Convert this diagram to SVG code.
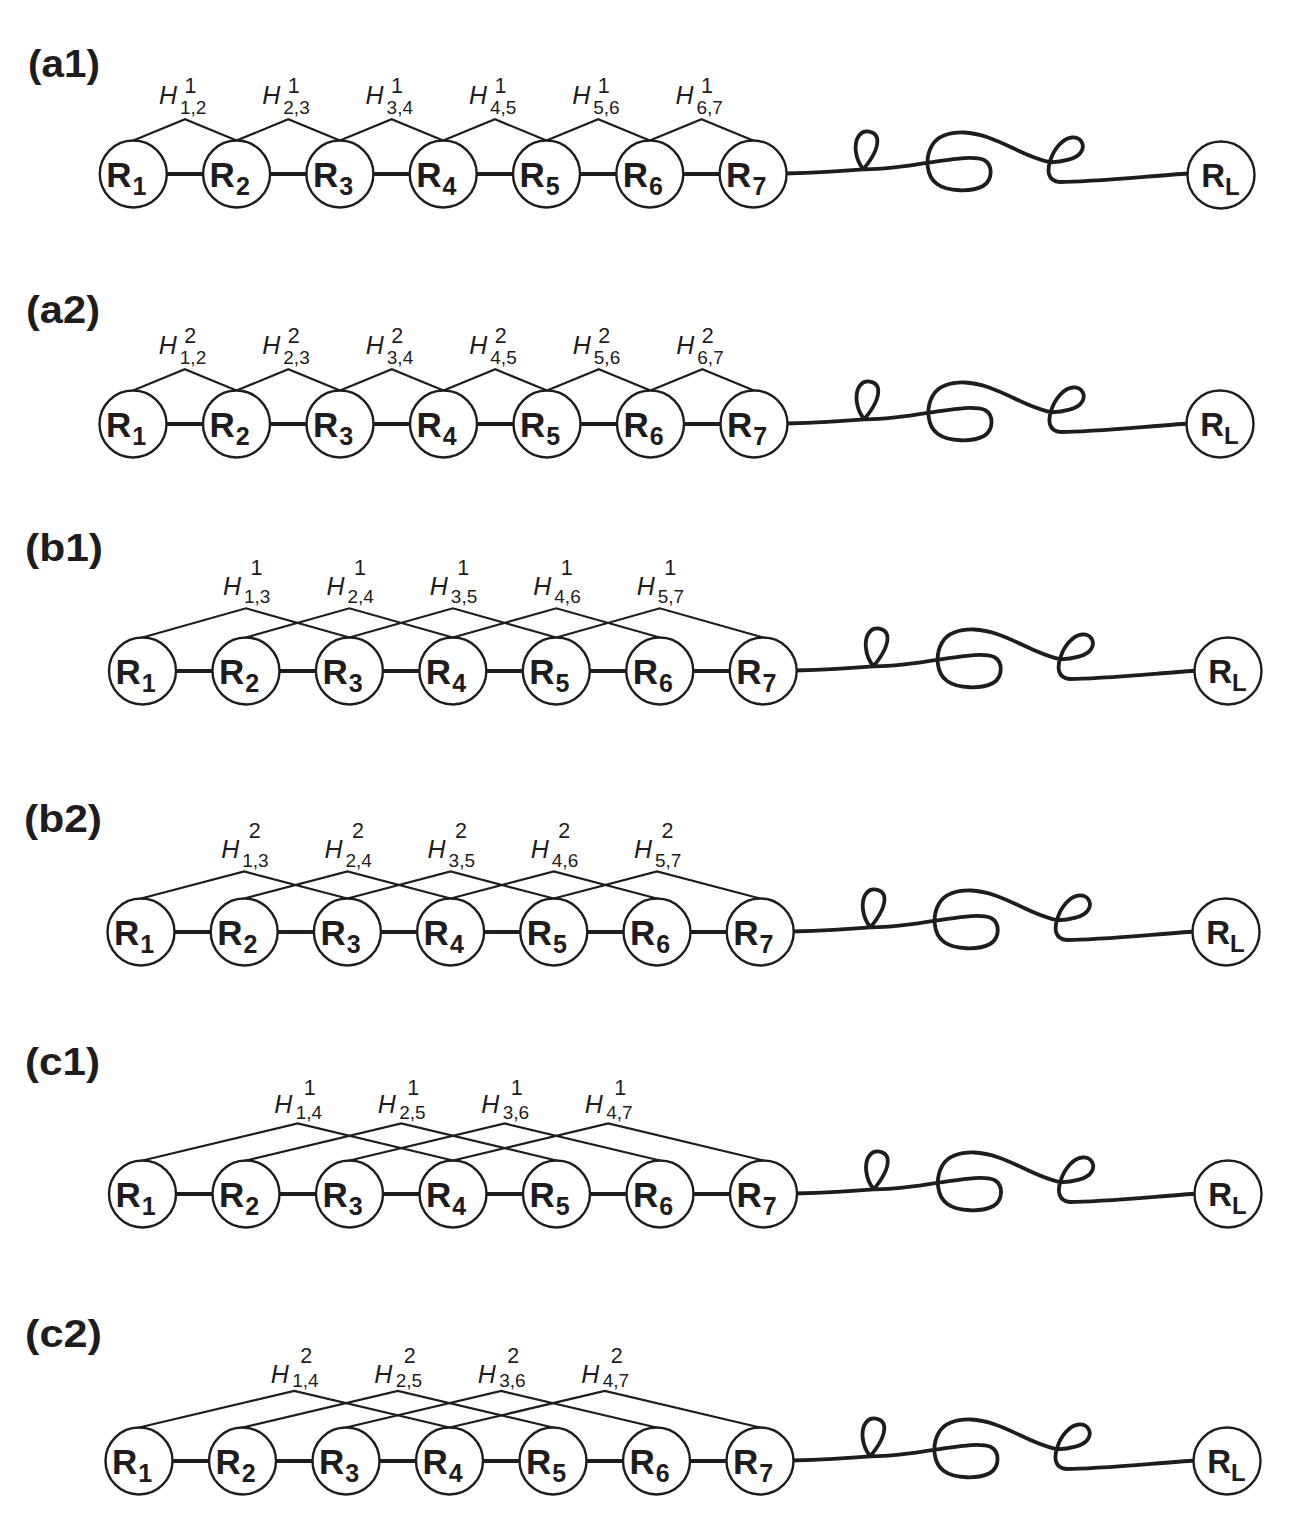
<svg xmlns="http://www.w3.org/2000/svg" width="1303" height="1530" viewBox="0 0 1303 1530">
<style>
.bg{fill:#fff}
.node circle{fill:#fff;stroke:#1f1c1d;stroke-width:2.4}
.chain{stroke:#1f1c1d;stroke-width:4;fill:none}
.hat{fill:none;stroke:#1f1c1d;stroke-width:2.2}
.sq{fill:none;stroke:#1f1c1d;stroke-width:3.8;stroke-linecap:round;stroke-linejoin:round}
.r{font-family:"Liberation Sans",Arial,Helvetica,sans-serif;font-weight:bold;font-size:35px;fill:#1f1c1d}
.rs{font-size:25px}
.rl{font-size:33px}
.rls{font-size:24px}
.h{font-family:"Liberation Sans",Arial,Helvetica,sans-serif;font-style:italic;font-size:25px;fill:#1f1c1d}
.hs{font-style:normal;font-size:19px}
.hp{font-style:normal;font-size:21.5px}
.lab{font-family:"Liberation Sans",Arial,Helvetica,sans-serif;font-weight:bold;font-size:38px;fill:#1f1c1d}
</style>
<defs>
<path id="squiggle" class="sq" d="M784,173.5 C815,172.5 842,171 863.3,169.3 C871,160 879,147 877,138 C875,131 864,129 859.5,135 C853,143 855,159 863.3,169.3 C880,169.5 905,166.5 928.3,162.7 C948,160 972,155 984,160 C993,165 993,180 983,186 C972,192 948,192 937,184 C926,176 925,158 931.7,146 C937,136 950,132 964,132.5 C980,133 996,140 1013.3,148.3 C1027,155 1040,160 1050,162.3 C1062,162 1077,159 1081,152 C1086,144 1080,137 1072,137.5 C1063,138 1054,149 1050.5,160 C1047,170 1047,181 1060,182 C1090,182 1150,176 1189,173.5"/>
</defs>
<rect class="bg" x="0" y="0" width="1303" height="1530"/>

<!-- ===== a1 ===== -->
<g id="panel-a1">
<text class="lab" x="28" y="77" textLength="72" lengthAdjust="spacingAndGlyphs">(a1)</text>
<g id="a1-connectors">
<line class="chain" x1="133.3" y1="174" x2="753.1" y2="174"/>
<polyline class="hat" points="133.3,140.5 185,119.3 236.6,140.5"/>
<polyline class="hat" points="236.6,140.5 288.3,119.3 339.9,140.5"/>
<polyline class="hat" points="339.9,140.5 391.6,119.3 443.2,140.5"/>
<polyline class="hat" points="443.2,140.5 494.9,119.3 546.5,140.5"/>
<polyline class="hat" points="546.5,140.5 598.2,119.3 649.8,140.5"/>
<polyline class="hat" points="649.8,140.5 701.5,119.3 753.1,140.5"/>
<use href="#squiggle"/>
</g>
<g id="a1-labels">
<text class="h"><tspan x="159" y="103.8">H</tspan><tspan class="hs" x="180" y="113.7">1,2</tspan><tspan class="hp" x="184.5" y="93">1</tspan></text>
<text class="h"><tspan x="262.3" y="103.8">H</tspan><tspan class="hs" x="283.3" y="113.7">2,3</tspan><tspan class="hp" x="287.8" y="93">1</tspan></text>
<text class="h"><tspan x="365.6" y="103.8">H</tspan><tspan class="hs" x="386.6" y="113.7">3,4</tspan><tspan class="hp" x="391.1" y="93">1</tspan></text>
<text class="h"><tspan x="468.9" y="103.8">H</tspan><tspan class="hs" x="489.9" y="113.7">4,5</tspan><tspan class="hp" x="494.4" y="93">1</tspan></text>
<text class="h"><tspan x="572.2" y="103.8">H</tspan><tspan class="hs" x="593.2" y="113.7">5,6</tspan><tspan class="hp" x="597.7" y="93">1</tspan></text>
<text class="h"><tspan x="675.5" y="103.8">H</tspan><tspan class="hs" x="696.5" y="113.7">6,7</tspan><tspan class="hp" x="701" y="93">1</tspan></text>
</g>
<g id="a1-R1" class="node"><circle cx="133.3" cy="174" r="33.5"/><text class="r" x="106.3" y="187">R<tspan class="rs" dx="1" dy="8">1</tspan></text></g>
<g id="a1-R2" class="node"><circle cx="236.6" cy="174" r="33.5"/><text class="r" x="209.6" y="187">R<tspan class="rs" dx="1" dy="8">2</tspan></text></g>
<g id="a1-R3" class="node"><circle cx="339.9" cy="174" r="33.5"/><text class="r" x="312.9" y="187">R<tspan class="rs" dx="1" dy="8">3</tspan></text></g>
<g id="a1-R4" class="node"><circle cx="443.2" cy="174" r="33.5"/><text class="r" x="416.2" y="187">R<tspan class="rs" dx="1" dy="8">4</tspan></text></g>
<g id="a1-R5" class="node"><circle cx="546.5" cy="174" r="33.5"/><text class="r" x="519.5" y="187">R<tspan class="rs" dx="1" dy="8">5</tspan></text></g>
<g id="a1-R6" class="node"><circle cx="649.8" cy="174" r="33.5"/><text class="r" x="622.8" y="187">R<tspan class="rs" dx="1" dy="8">6</tspan></text></g>
<g id="a1-R7" class="node"><circle cx="753.1" cy="174" r="33.5"/><text class="r" x="726.1" y="187">R<tspan class="rs" dx="1" dy="8">7</tspan></text></g>
<g id="a1-RL" class="node"><circle cx="1221" cy="175" r="33.5"/><text class="r rl" x="1220.5" y="187" text-anchor="middle">R<tspan class="rls" dy="8">L</tspan></text></g>
</g>

<!-- ===== a2 ===== -->
<g id="panel-a2">
<text class="lab" x="26" y="323" textLength="74" lengthAdjust="spacingAndGlyphs">(a2)</text>
<g id="a2-connectors">
<line class="chain" x1="133" y1="424" x2="754" y2="424"/>
<polyline class="hat" points="133,390.5 184.8,369.3 236.5,390.5"/>
<polyline class="hat" points="236.5,390.5 288.3,369.3 340,390.5"/>
<polyline class="hat" points="340,390.5 391.8,369.3 443.5,390.5"/>
<polyline class="hat" points="443.5,390.5 495.3,369.3 547,390.5"/>
<polyline class="hat" points="547,390.5 598.8,369.3 650.5,390.5"/>
<polyline class="hat" points="650.5,390.5 702.3,369.3 754,390.5"/>
<use href="#squiggle" transform="translate(0.9,250)"/>
</g>
<g id="a2-labels">
<text class="h"><tspan x="158.8" y="353.8">H</tspan><tspan class="hs" x="179.8" y="363.7">1,2</tspan><tspan class="hp" x="184.3" y="343">2</tspan></text>
<text class="h"><tspan x="262.3" y="353.8">H</tspan><tspan class="hs" x="283.3" y="363.7">2,3</tspan><tspan class="hp" x="287.8" y="343">2</tspan></text>
<text class="h"><tspan x="365.8" y="353.8">H</tspan><tspan class="hs" x="386.8" y="363.7">3,4</tspan><tspan class="hp" x="391.3" y="343">2</tspan></text>
<text class="h"><tspan x="469.3" y="353.8">H</tspan><tspan class="hs" x="490.3" y="363.7">4,5</tspan><tspan class="hp" x="494.8" y="343">2</tspan></text>
<text class="h"><tspan x="572.8" y="353.8">H</tspan><tspan class="hs" x="593.8" y="363.7">5,6</tspan><tspan class="hp" x="598.3" y="343">2</tspan></text>
<text class="h"><tspan x="676.3" y="353.8">H</tspan><tspan class="hs" x="697.3" y="363.7">6,7</tspan><tspan class="hp" x="701.8" y="343">2</tspan></text>
</g>
<g id="a2-R1" class="node"><circle cx="133" cy="424" r="33.5"/><text class="r" x="106" y="437">R<tspan class="rs" dx="1" dy="8">1</tspan></text></g>
<g id="a2-R2" class="node"><circle cx="236.5" cy="424" r="33.5"/><text class="r" x="209.5" y="437">R<tspan class="rs" dx="1" dy="8">2</tspan></text></g>
<g id="a2-R3" class="node"><circle cx="340" cy="424" r="33.5"/><text class="r" x="313" y="437">R<tspan class="rs" dx="1" dy="8">3</tspan></text></g>
<g id="a2-R4" class="node"><circle cx="443.5" cy="424" r="33.5"/><text class="r" x="416.5" y="437">R<tspan class="rs" dx="1" dy="8">4</tspan></text></g>
<g id="a2-R5" class="node"><circle cx="547" cy="424" r="33.5"/><text class="r" x="520" y="437">R<tspan class="rs" dx="1" dy="8">5</tspan></text></g>
<g id="a2-R6" class="node"><circle cx="650.5" cy="424" r="33.5"/><text class="r" x="623.5" y="437">R<tspan class="rs" dx="1" dy="8">6</tspan></text></g>
<g id="a2-R7" class="node"><circle cx="754" cy="424" r="33.5"/><text class="r" x="727" y="437">R<tspan class="rs" dx="1" dy="8">7</tspan></text></g>
<g id="a2-RL" class="node"><circle cx="1220" cy="424" r="33.5"/><text class="r rl" x="1219.5" y="436" text-anchor="middle">R<tspan class="rls" dy="8">L</tspan></text></g>
</g>

<!-- ===== b1 ===== -->
<g id="panel-b1">
<text class="lab" x="25" y="561" textLength="78" lengthAdjust="spacingAndGlyphs">(b1)</text>
<g id="b1-connectors">
<line class="chain" x1="142.5" y1="671" x2="763.2" y2="671"/>
<polyline class="hat" points="142.5,637.5 245.95,608.3 349.4,637.5"/>
<polyline class="hat" points="245.95,637.5 349.4,608.3 452.85,637.5"/>
<polyline class="hat" points="349.4,637.5 452.85,608.3 556.3,637.5"/>
<polyline class="hat" points="452.85,637.5 556.3,608.3 659.75,637.5"/>
<polyline class="hat" points="556.3,637.5 659.75,608.3 763.2,637.5"/>
<use href="#squiggle" transform="translate(10.1,497)"/>
</g>
<g id="b1-labels">
<text class="h"><tspan x="222.95" y="594.8">H</tspan><tspan class="hs" x="243.95" y="603.3">1,3</tspan><tspan class="hp" x="250.45" y="574.5">1</tspan></text>
<text class="h"><tspan x="326.4" y="594.8">H</tspan><tspan class="hs" x="347.4" y="603.3">2,4</tspan><tspan class="hp" x="353.9" y="574.5">1</tspan></text>
<text class="h"><tspan x="429.85" y="594.8">H</tspan><tspan class="hs" x="450.85" y="603.3">3,5</tspan><tspan class="hp" x="457.35" y="574.5">1</tspan></text>
<text class="h"><tspan x="533.3" y="594.8">H</tspan><tspan class="hs" x="554.3" y="603.3">4,6</tspan><tspan class="hp" x="560.8" y="574.5">1</tspan></text>
<text class="h"><tspan x="636.75" y="594.8">H</tspan><tspan class="hs" x="657.75" y="603.3">5,7</tspan><tspan class="hp" x="664.25" y="574.5">1</tspan></text>
</g>
<g id="b1-R1" class="node"><circle cx="142.5" cy="671" r="33.5"/><text class="r" x="115.5" y="684">R<tspan class="rs" dx="1" dy="8">1</tspan></text></g>
<g id="b1-R2" class="node"><circle cx="245.95" cy="671" r="33.5"/><text class="r" x="218.95" y="684">R<tspan class="rs" dx="1" dy="8">2</tspan></text></g>
<g id="b1-R3" class="node"><circle cx="349.4" cy="671" r="33.5"/><text class="r" x="322.4" y="684">R<tspan class="rs" dx="1" dy="8">3</tspan></text></g>
<g id="b1-R4" class="node"><circle cx="452.85" cy="671" r="33.5"/><text class="r" x="425.85" y="684">R<tspan class="rs" dx="1" dy="8">4</tspan></text></g>
<g id="b1-R5" class="node"><circle cx="556.3" cy="671" r="33.5"/><text class="r" x="529.3" y="684">R<tspan class="rs" dx="1" dy="8">5</tspan></text></g>
<g id="b1-R6" class="node"><circle cx="659.75" cy="671" r="33.5"/><text class="r" x="632.75" y="684">R<tspan class="rs" dx="1" dy="8">6</tspan></text></g>
<g id="b1-R7" class="node"><circle cx="763.2" cy="671" r="33.5"/><text class="r" x="736.2" y="684">R<tspan class="rs" dx="1" dy="8">7</tspan></text></g>
<g id="b1-RL" class="node"><circle cx="1228" cy="671" r="33.5"/><text class="r rl" x="1227.5" y="683" text-anchor="middle">R<tspan class="rls" dy="8">L</tspan></text></g>
</g>

<!-- ===== b2 ===== -->
<g id="panel-b2">
<text class="lab" x="24" y="832" textLength="78" lengthAdjust="spacingAndGlyphs">(b2)</text>
<g id="b2-connectors">
<line class="chain" x1="141" y1="932" x2="760.2" y2="932"/>
<polyline class="hat" points="141,898.5 244.2,871.5 347.4,898.5"/>
<polyline class="hat" points="244.2,898.5 347.4,871.5 450.6,898.5"/>
<polyline class="hat" points="347.4,898.5 450.6,871.5 553.8,898.5"/>
<polyline class="hat" points="450.6,898.5 553.8,871.5 657,898.5"/>
<polyline class="hat" points="553.8,898.5 657,871.5 760.2,898.5"/>
<use href="#squiggle" transform="translate(7.1,758)"/>
</g>
<g id="b2-labels">
<text class="h"><tspan x="221.2" y="858">H</tspan><tspan class="hs" x="242.2" y="866.5">1,3</tspan><tspan class="hp" x="248.7" y="837.5">2</tspan></text>
<text class="h"><tspan x="324.4" y="858">H</tspan><tspan class="hs" x="345.4" y="866.5">2,4</tspan><tspan class="hp" x="351.9" y="837.5">2</tspan></text>
<text class="h"><tspan x="427.6" y="858">H</tspan><tspan class="hs" x="448.6" y="866.5">3,5</tspan><tspan class="hp" x="455.1" y="837.5">2</tspan></text>
<text class="h"><tspan x="530.8" y="858">H</tspan><tspan class="hs" x="551.8" y="866.5">4,6</tspan><tspan class="hp" x="558.3" y="837.5">2</tspan></text>
<text class="h"><tspan x="634" y="858">H</tspan><tspan class="hs" x="655" y="866.5">5,7</tspan><tspan class="hp" x="661.5" y="837.5">2</tspan></text>
</g>
<g id="b2-R1" class="node"><circle cx="141" cy="932" r="33.5"/><text class="r" x="114" y="945">R<tspan class="rs" dx="1" dy="8">1</tspan></text></g>
<g id="b2-R2" class="node"><circle cx="244.2" cy="932" r="33.5"/><text class="r" x="217.2" y="945">R<tspan class="rs" dx="1" dy="8">2</tspan></text></g>
<g id="b2-R3" class="node"><circle cx="347.4" cy="932" r="33.5"/><text class="r" x="320.4" y="945">R<tspan class="rs" dx="1" dy="8">3</tspan></text></g>
<g id="b2-R4" class="node"><circle cx="450.6" cy="932" r="33.5"/><text class="r" x="423.6" y="945">R<tspan class="rs" dx="1" dy="8">4</tspan></text></g>
<g id="b2-R5" class="node"><circle cx="553.8" cy="932" r="33.5"/><text class="r" x="526.8" y="945">R<tspan class="rs" dx="1" dy="8">5</tspan></text></g>
<g id="b2-R6" class="node"><circle cx="657" cy="932" r="33.5"/><text class="r" x="630" y="945">R<tspan class="rs" dx="1" dy="8">6</tspan></text></g>
<g id="b2-R7" class="node"><circle cx="760.2" cy="932" r="33.5"/><text class="r" x="733.2" y="945">R<tspan class="rs" dx="1" dy="8">7</tspan></text></g>
<g id="b2-RL" class="node"><circle cx="1226" cy="932" r="33.5"/><text class="r rl" x="1225.5" y="944" text-anchor="middle">R<tspan class="rls" dy="8">L</tspan></text></g>
</g>

<!-- ===== c1 ===== -->
<g id="panel-c1">
<text class="lab" x="25" y="1075" textLength="75" lengthAdjust="spacingAndGlyphs">(c1)</text>
<g id="c1-connectors">
<line class="chain" x1="142.5" y1="1194" x2="763.5" y2="1194"/>
<polyline class="hat" points="142.5,1160.5 297.75,1123.5 453,1160.5"/>
<polyline class="hat" points="246,1160.5 401.25,1123.5 556.5,1160.5"/>
<polyline class="hat" points="349.5,1160.5 504.75,1123.5 660,1160.5"/>
<polyline class="hat" points="453,1160.5 608.25,1123.5 763.5,1160.5"/>
<use href="#squiggle" transform="translate(10.4,1020)"/>
</g>
<g id="c1-labels">
<text class="h"><tspan x="274.25" y="1112.5">H</tspan><tspan class="hs" x="295.75" y="1118.7">1,4</tspan><tspan class="hp" x="303.75" y="1094.5">1</tspan></text>
<text class="h"><tspan x="377.75" y="1112.5">H</tspan><tspan class="hs" x="399.25" y="1118.7">2,5</tspan><tspan class="hp" x="407.25" y="1094.5">1</tspan></text>
<text class="h"><tspan x="481.25" y="1112.5">H</tspan><tspan class="hs" x="502.75" y="1118.7">3,6</tspan><tspan class="hp" x="510.75" y="1094.5">1</tspan></text>
<text class="h"><tspan x="584.75" y="1112.5">H</tspan><tspan class="hs" x="606.25" y="1118.7">4,7</tspan><tspan class="hp" x="614.25" y="1094.5">1</tspan></text>
</g>
<g id="c1-R1" class="node"><circle cx="142.5" cy="1194" r="33.5"/><text class="r" x="115.5" y="1207">R<tspan class="rs" dx="1" dy="8">1</tspan></text></g>
<g id="c1-R2" class="node"><circle cx="246" cy="1194" r="33.5"/><text class="r" x="219" y="1207">R<tspan class="rs" dx="1" dy="8">2</tspan></text></g>
<g id="c1-R3" class="node"><circle cx="349.5" cy="1194" r="33.5"/><text class="r" x="322.5" y="1207">R<tspan class="rs" dx="1" dy="8">3</tspan></text></g>
<g id="c1-R4" class="node"><circle cx="453" cy="1194" r="33.5"/><text class="r" x="426" y="1207">R<tspan class="rs" dx="1" dy="8">4</tspan></text></g>
<g id="c1-R5" class="node"><circle cx="556.5" cy="1194" r="33.5"/><text class="r" x="529.5" y="1207">R<tspan class="rs" dx="1" dy="8">5</tspan></text></g>
<g id="c1-R6" class="node"><circle cx="660" cy="1194" r="33.5"/><text class="r" x="633" y="1207">R<tspan class="rs" dx="1" dy="8">6</tspan></text></g>
<g id="c1-R7" class="node"><circle cx="763.5" cy="1194" r="33.5"/><text class="r" x="736.5" y="1207">R<tspan class="rs" dx="1" dy="8">7</tspan></text></g>
<g id="c1-RL" class="node"><circle cx="1228" cy="1194" r="33.5"/><text class="r rl" x="1227.5" y="1206" text-anchor="middle">R<tspan class="rls" dy="8">L</tspan></text></g>
</g>

<!-- ===== c2 ===== -->
<g id="panel-c2">
<text class="lab" x="25" y="1347" textLength="77" lengthAdjust="spacingAndGlyphs">(c2)</text>
<g id="c2-connectors">
<line class="chain" x1="139" y1="1461" x2="760" y2="1461"/>
<polyline class="hat" points="139,1427.5 294.25,1391 449.5,1427.5"/>
<polyline class="hat" points="242.5,1427.5 397.75,1391 553,1427.5"/>
<polyline class="hat" points="346,1427.5 501.25,1391 656.5,1427.5"/>
<polyline class="hat" points="449.5,1427.5 604.75,1391 760,1427.5"/>
<use href="#squiggle" transform="translate(6.9,1287)"/>
</g>
<g id="c2-labels">
<text class="h"><tspan x="270.75" y="1382.5">H</tspan><tspan class="hs" x="292.25" y="1387">1,4</tspan><tspan class="hp" x="300.25" y="1362.5">2</tspan></text>
<text class="h"><tspan x="374.25" y="1382.5">H</tspan><tspan class="hs" x="395.75" y="1387">2,5</tspan><tspan class="hp" x="403.75" y="1362.5">2</tspan></text>
<text class="h"><tspan x="477.75" y="1382.5">H</tspan><tspan class="hs" x="499.25" y="1387">3,6</tspan><tspan class="hp" x="507.25" y="1362.5">2</tspan></text>
<text class="h"><tspan x="581.25" y="1382.5">H</tspan><tspan class="hs" x="602.75" y="1387">4,7</tspan><tspan class="hp" x="610.75" y="1362.5">2</tspan></text>
</g>
<g id="c2-R1" class="node"><circle cx="139" cy="1461" r="33.5"/><text class="r" x="112" y="1474">R<tspan class="rs" dx="1" dy="8">1</tspan></text></g>
<g id="c2-R2" class="node"><circle cx="242.5" cy="1461" r="33.5"/><text class="r" x="215.5" y="1474">R<tspan class="rs" dx="1" dy="8">2</tspan></text></g>
<g id="c2-R3" class="node"><circle cx="346" cy="1461" r="33.5"/><text class="r" x="319" y="1474">R<tspan class="rs" dx="1" dy="8">3</tspan></text></g>
<g id="c2-R4" class="node"><circle cx="449.5" cy="1461" r="33.5"/><text class="r" x="422.5" y="1474">R<tspan class="rs" dx="1" dy="8">4</tspan></text></g>
<g id="c2-R5" class="node"><circle cx="553" cy="1461" r="33.5"/><text class="r" x="526" y="1474">R<tspan class="rs" dx="1" dy="8">5</tspan></text></g>
<g id="c2-R6" class="node"><circle cx="656.5" cy="1461" r="33.5"/><text class="r" x="629.5" y="1474">R<tspan class="rs" dx="1" dy="8">6</tspan></text></g>
<g id="c2-R7" class="node"><circle cx="760" cy="1461" r="33.5"/><text class="r" x="733" y="1474">R<tspan class="rs" dx="1" dy="8">7</tspan></text></g>
<g id="c2-RL" class="node"><circle cx="1227" cy="1461" r="33.5"/><text class="r rl" x="1226.5" y="1473" text-anchor="middle">R<tspan class="rls" dy="8">L</tspan></text></g>
</g>
</svg>
